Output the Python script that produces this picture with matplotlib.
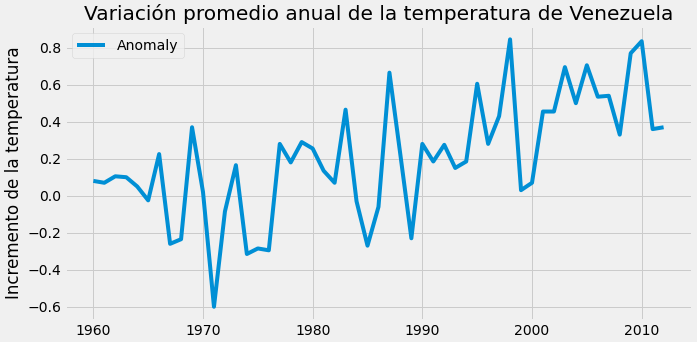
import matplotlib
matplotlib.use("Agg")
import matplotlib.pyplot as plt
from matplotlib.ticker import MultipleLocator

plt.style.use("fivethirtyeight")

# anomalía anual (°C) respecto al promedio
years = list(range(1960, 2013))
anomaly = [0.08, 0.07, 0.105, 0.10, 0.05, -0.025, 0.225, -0.26, -0.235, 0.37,
           0.02, -0.60, -0.085, 0.165, -0.315, -0.285, -0.295, 0.28, 0.18, 0.29,
           0.255, 0.135, 0.07, 0.465, -0.03, -0.27, -0.06, 0.665, 0.22, -0.23,
           0.28, 0.185, 0.275, 0.15, 0.185, 0.605, 0.28, 0.43, 0.845, 0.03,
           0.07, 0.455, 0.455, 0.695, 0.50, 0.705, 0.535, 0.54, 0.33, 0.77,
           0.835, 0.36, 0.37]

fig, ax = plt.subplots(figsize=(697 / 72, 342 / 72), dpi=72)
ax.plot(years, anomaly, label="Anomaly")
ax.yaxis.set_major_locator(MultipleLocator(0.2))
ax.set_title("Variación promedio anual de la temperatura de Venezuela")
ax.set_ylabel("Incremento de la temperatura")
ax.legend(loc="upper left")
fig.subplots_adjust(left=0.093, right=0.993, bottom=0.064, top=0.924)
fig.savefig("out.png", dpi=72)
